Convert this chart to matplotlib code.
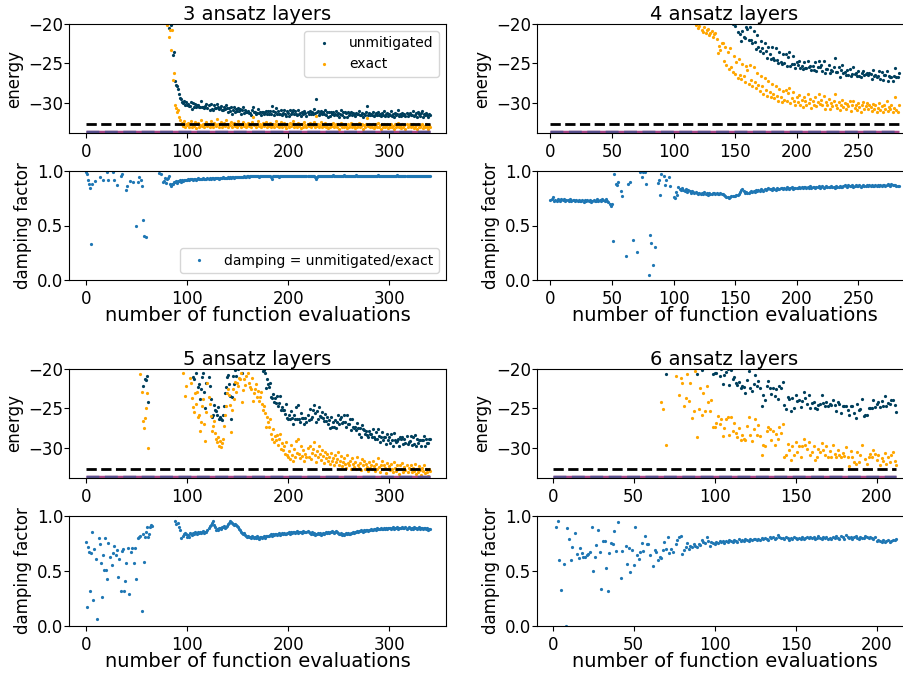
import numpy as np
import matplotlib
matplotlib.use('Agg')
import matplotlib.pyplot as plt

# energies in units of 0.1, damping factors in units of 0.001
# one entry per function evaluation, starting at evaluation 0

# ---- 3 ansatz layers ----
exact_3 = [
    -18, -35, -22, -47, -56, -41, -63, -58, -70, -77, -68, -84, -79, -91, -86, -95, -88, -102, -97, -93,
    -104, -99, -111, -107, -96, -115, -109, -118, -112, -121, -116, -108, -124, -119, -127, -122, -130, -117, -125, -133,
    -128, -121, -136, -131, -126, -139, -134, -129, -142, -137, -132, -140, -145, -138, -143, -136, -148, -141, -146, -139,
    -144, -149, -142, -150, -146, -147, -151, -145, -153, -148, -152, -149, -156, -161, -167, -163, -172, -178, -184, -191,
    -201, -196, -216, -207, -233, -208, -271, -262, -302, -306, -312, -309, -318, -321, -326, -325, -329, -323, -330, -327,
    -328, -325, -331, -327, -323, -330, -326, -329, -324, -332, -327, -325, -330, -328, -322, -329, -326, -331, -327, -324,
    -329, -326, -330, -323, -328, -331, -325, -327, -329, -320, -326, -330, -327, -324, -331, -328, -325, -329, -322, -327,
    -330, -326, -328, -324, -331, -327, -325, -329, -326, -330, -323, -328, -326, -331, -327, -324, -329, -326, -330, -328,
    -325, -329, -327, -331, -324, -318, -328, -326, -330, -327, -323, -329, -326, -331, -328, -325, -329, -327, -324, -330,
    -327, -329, -325, -331, -328, -326, -330, -327, -323, -329, -326, -331, -328, -324, -330, -327, -325, -329, -332, -326,
    -328, -331, -325, -329, -327, -323, -330, -326, -328, -331, -325, -329, -327, -332, -326, -330, -324, -328, -331, -327,
    -329, -325, -330, -327, -328, -324, -331, -317, -329, -326, -330, -328, -324, -331, -327, -329, -325, -330, -328, -332,
    -326, -330, -327, -329, -325, -331, -328, -326, -330, -327, -333, -328, -325, -330, -327, -331, -326, -329, -332, -327,
    -330, -328, -325, -331, -327, -329, -332, -326, -330, -328, -325, -331, -329, -327, -333, -328, -330, -326, -319, -329,
    -327, -331, -328, -330, -326, -332, -329, -327, -331, -325, -330, -328, -333, -327, -330, -326, -331, -329, -327, -332,
    -328, -330, -326, -331, -329, -333, -327, -330, -328, -325, -331, -329, -332, -327, -330, -328, -333, -326, -331, -329,
    -327, -331, -329, -326, -332, -330, -328, -333, -327, -330, -331, -328, -326, -332, -329, -331, -327, -330, -333, -328, -330,
]
damp_3 = [
    990, 972, 921, 884, 842, 332, 880, 1120, 1210, 905, 1080, 1250, 1160, 1040, 946, 1230, 1100, 921, 1280, 1060,
    1180, 993, 918, 1130, 1270, 1050, 990, 916, 1190, 1090, 874, 1210, 1140, 1020, 952, 968, 1230, 1080, 1160, 822,
    858, 1280, 1110, 908, 1030, 1190, 901, 1070, 1260, 493, 1120, 902, 946, 1040, 921, 862, 548, 402, 1170, 394,
    1130, 1040, 1210, 1080, 1170, 1260, 1060, 1190, 1100, 1030, 1240, 1150, 982, 1040, 968, 1020, 902, 911, 935, 889,
    925, 934, 951, 880, 862, 878, 884, 897, 902, 906, 891, 912, 908, 915, 903, 918, 912, 921, 917, 914,
    921, 926, 918, 928, 924, 931, 922, 927, 929, 920, 926, 932, 925, 930, 923, 928, 934, 926, 929, 931,
    933, 928, 936, 931, 938, 934, 929, 937, 932, 940, 935, 931, 938, 936, 933, 941, 937, 934, 939, 936,
    942, 938, 945, 940, 947, 943, 939, 946, 944, 941, 948, 945, 942, 949, 946, 943, 950, 947, 944, 951,
    953, 949, 956, 951, 954, 958, 950, 955, 952, 957, 953, 949, 956, 954, 951, 958, 955, 952, 956, 953,
    950, 955, 953, 948, 926, 952, 957, 954, 950, 955, 953, 949, 956, 952, 954, 958, 951, 955, 953, 950,
    954, 957, 951, 955, 952, 956, 953, 950, 957, 954, 951, 955, 958, 952, 954, 950, 956, 953, 955, 951,
    956, 953, 950, 954, 957, 951, 943, 931, 946, 952, 955, 953, 957, 950, 954, 956, 952, 955, 951, 957,
    954, 958, 952, 955, 959, 953, 956, 951, 955, 958, 954, 957, 952, 956, 953, 959, 955, 952, 957, 954,
    956, 952, 958, 954, 957, 953, 955, 959, 952, 956, 954, 951, 957, 955, 953, 958, 954, 956, 952, 957,
    955, 953, 958, 954, 956, 952, 957, 955, 953, 959, 954, 956, 952, 957, 955, 953, 958, 954, 956, 953,
    957, 954, 952, 958, 955, 953, 956, 954, 959, 952, 956, 955, 953, 957, 954, 956, 952, 958, 955, 953,
    956, 954, 958, 952, 955, 957, 953, 956, 954, 951, 957, 955, 953, 958, 954, 952, 956, 955, 953, 957, 954,
]

# ---- 4 ansatz layers ----
exact_4 = [
    -12, -24, -19, -33, -41, -28, -46, -52, -39, -58, -61, -49, -66, -70, -57, -73, -68, -79, -75, -84,
    -77, -88, -82, -91, -86, -95, -89, -98, -93, -101, -97, -104, -99, -107, -102, -110, -105, -112, -108, -115,
    -111, -117, -113, -120, -116, -122, -118, -125, -121, -127, -123, -129, -125, -131, -127, -133, -129, -135, -131, -136,
    -132, -138, -134, -140, -136, -141, -137, -143, -139, -144, -140, -145, -141, -146, -142, -148, -144, -149, -145, -150,
    -146, -151, -147, -153, -149, -154, -150, -156, -152, -157, -153, -158, -155, -160, -156, -161, -157, -162, -158, -163,
    -159, -164, -161, -166, -163, -168, -165, -170, -167, -173, -170, -176, -173, -179, -176, -182, -185, -189,
    -201, -198, -205, -203, -199, -207, -210, -204, -212, -208, -206, -214, -211, -209, -216, -213, -212, -219, -237, -228, -233, -224,
    -224, -247, -229, -252, -236, -257, -231, -254, -261, -241, -263, -248, -268, -244, -264, -270, -251, -266, -273, -253,
    -258, -276, -252, -271, -279, -255, -274, -281, -262, -277, -285, -266, -279, -289, -268, -283, -291, -272, -286, -292,
    -276, -289, -294, -279, -291, -297, -282, -293, -299, -285, -296, -284, -298, -287, -281, -300, -294, -286, -297, -303,
    -293, -299, -290, -302, -296, -305, -292, -298, -303, -289, -300, -295, -306, -297, -302, -293, -304, -299, -288, -301,
    -296, -303, -291, -307, -299, -302, -295, -308, -300, -304, -297, -288, -303, -306, -299, -309, -302, -296, -305, -300,
    -307, -301, -304, -298, -310, -303, -297, -306, -302, -309, -300, -305, -311, -303, -299, -307, -304, -300, -308, -302,
    -305, -310, -301, -307, -303, -311, -306, -300, -309, -304, -312, -302, -307, -298, -310, -305, -308, -303, -311, -306,
    -293, -309, -312, -302,
]
damp_4 = [
    738, 745, 761, 729, 733, 722, 741, 735, 728, 739, 731, 744, 726, 737, 733, 729, 742, 724, 736, 731,
    727, 734, 722, 738, 729, 725, 733, 719, 731, 727, 736, 723, 730, 718, 729, 735, 722, 728, 741, 726,
    733, 727, 745, 738, 729, 741, 722, 713, 696, 683,
    700, 355, 968, 882, 874, 902, 1080, 812, 771, 1150, -120, 221, 1230, 884, 1060, 897, -340, 368, 1110, 1340,
    258, 1070, -90, 990, 946, 988, 1200, 991, 880, 1050, 46, 412, 336, 140, 1130, 305, 1020, 890, 915, 781,
    976, 1040, 951, 870, 914, 1070, 945, 861, 1010, 1120,
    760, 752, 803, 781, 852, 836, 824, 841, 829, 816, 838, 807, 822, 812, 800, 819, 806, 795, 811, 799,
    790, 802, 786, 797, 791, 804, 788, 795, 783, 799, 792, 786, 801, 794, 789, 797, 791, 785, 800, 793,
    788, 779, 771, 764, 757, 748, 762, 771, 767, 775, 769, 778, 783, 791, 806, 822, 831, 812, 798, 805,
    801, 796, 809, 814, 803, 818, 811, 823, 816, 827, 821, 833, 826, 819, 838, 829, 835, 842, 831, 838,
    829, 841, 836, 827, 845, 838, 833, 847, 840, 835, 844, 838, 849, 842, 836, 845, 851, 839, 846, 843,
    848, 841, 852, 846, 855, 843, 850, 857, 845, 852, 848, 858, 843, 851, 856, 847, 853, 849, 859, 846,
    852, 858, 847, 855, 861, 850, 856, 849, 862, 853, 857, 846, 859, 854, 850, 863, 856, 852, 860, 868,
    862, 856, 871, 864, 858, 867, 855, 862, 869, 859, 865, 872, 857, 863, 868, 860, 866, 873, 861, 867,
    862, 870, 858, 866, 873, 860, 868, 864, 871, 859, 867, 874, 863, 869, 878, 872, 866, 882, 875, 868,
    871, 864, 858, 866,
]

# ---- 5 ansatz layers ----
exact_5 = [
    -21, -38, -29, -54, -47, -63, -58, -72, -66, -81, -74, -89, -83, -95, -90, -102, -97, -108, -103, -114,
    -110, -118, -113, -122, -117, -126, -121, -130, -125, -133, -128, -136, -131, -139, -134, -142, -137, -145, -140, -147,
    -143, -149, -146, -151, -148, -153, -150, -155, -152, -157, -154, -160, -158,
    -206, -172, -229, -266, -275, -262, -250, -231, -300,
    -158, -146, -161, -152, -139, -148, -133, -155, -142, -150, -137, -129, -145, -153, -140, -162, -135, -147, -158, -131,
    -144, -156, -139, -151, -163, -148,
    -164, -171, -177, -183, -188, -192, -195, -189,
    -205, -198, -234, -221,
    -199, -193, -199, -212, -218, -237, -248, -254, -231, -244, -229, -261, -258, -278, -267, -247, -238, -270, -291, -255,
    -218, -236, -244, -259, -278, -272, -266, -281, -289, -293, -286, -297, -291, -299, -294, -288, -272, -258, -247, -231,
    -225, -233, -246, -280, -252, -225, -238, -217, -229, -218, -221, -212, -213, -205, -242, -226, -213, -220, -209, -198,
    -205, -218, -223, -225, -212, -240, -231, -225, -219, -236, -228, -241, -236, -229, -244, -252, -247, -256, -273, -261,
    -267, -274, -263, -282, -289, -276, -293, -285, -290, -283, -296, -288, -282, -301, -294, -303, -298, -307, -292, -309,
    -312, -304, -314, -296, -309, -317, -301, -311, -291, -306, -289, -307, -313, -298, -310, -303, -316, -308, -312, -300,
    -311, -297, -314, -306, -301, -292, -309, -318, -304, -312, -297, -308, -315, -303, -310, -319, -305, -313, -308, -316,
    -311, -320, -306, -317, -313, -322, -309, -318, -314, -305, -321, -316, -310, -323, -318, -313, -320, -325, -309, -319,
    -322, -316, -327, -313, -320, -324, -318, -326, -311, -321, -325, -319, -328, -314, -322, -317, -326, -320, -324, -329,
    -318, -325, -321, -327, -316, -323, -329, -320, -326, -313, -324, -330, -322, -317, -327, -321, -325, -332, -319, -326,
    -323, -328, -320, -326, -331, -318, -325, -329, -322, -327, -333, -321, -326, -319, -330, -324, -328, -322, -331, -325,
    -327, -322, -331, -325, -329, -320, -333, -326, -330, -323, -328, -334, -325, -329, -321, -332, -327, -330, -335, -326, -329,
]
damp_5 = [
    760, 170, 718, 672, 318, 663, 858, 232, 702, 1080, 611, 68, 1140, 801, 745, 572, 268, 641, 512, 798,
    509, 428, 757, 623, 1090, 552, 661, 731, 1210, 648, 690, 442, 612, 1050, 318, 683, 703, 318, 412, 571,
    1160, 712, 293, 1070, 670, 705, 1230, 571, 712, 430, 1100, 801, 812, 815, 1150, 140, 832, 582, 810, 858,
    903, 806, 832, 898, 921, 912,
    1080, 1190, -150, 1160, 1040, 1130, 1120, -420, 1170, 1070, 1190, 1140, 1110, 1020, 1180, 1150, -80, 1090, 1120, 1060,
    1160, 1140,
    951, 930, 1010, 937, 902, 871, 803, 1040, 822, 839, 845, 836,
    812, 826, 808, 841, 835, 829, 847, 838, 851, 843, 836, 852, 848, 857, 844, 853, 861, 849, 858, 856,
    872, 893, 907, 918, 936, 951, 922, 897, 874, 881, 869, 888, 894, 879, 901, 896, 908, 893, 903, 911,
    924, 939, 952, 941, 933, 927, 918, 925, 914, 909, 903, 881, 872, 858, 849, 836, 842, 827, 819, 812,
    818, 806, 813, 802, 815, 809, 798, 812, 804, 816, 801, 795, 808, 811, 799, 806, 817, 803, 821, 814,
    822, 815, 829, 834, 821, 838, 826, 832, 840, 829, 835, 842, 831, 838, 844, 833, 847, 839, 836, 849,
    843, 851, 838, 855, 847, 852, 858, 846, 853, 861, 849, 856, 852, 859, 847, 863, 855, 851, 857, 862,
    851, 846, 839, 852, 835, 843, 829, 838, 832, 845, 836, 841, 828, 839, 847, 833, 842, 851, 846, 855,
    849, 858, 852, 861, 855, 848, 857, 862, 851, 846, 839, 835, 843, 830, 838, 827, 834, 841, 836, 845,
    839, 832, 848, 841, 853, 846, 859, 851, 862, 855, 867, 860, 871, 864, 858, 873, 866, 870, 877, 868,
    874, 869, 881, 876, 872, 884, 879, 875, 887, 881, 878, 885, 890, 882, 886, 893, 880, 888, 884, 891,
    887, 894, 882, 890, 897, 885, 892, 888, 903, 884, 895, 891, 887, 898, 893, 889, 896, 884, 892, 899,
    890, 886, 894, 881, 897, 888, 892, 885, 891, 896, 883, 889, 893, 880, 887, 895, 882, 889, 876, 884, 879,
]

# ---- 6 ansatz layers ----
exact_6 = [
    -9, -22, -15, -31, -27, -40, -36, -48, -43, -55, -51, -62, -58, -69, -64, -75, -71, -80, -77, -85,
    -82, -89, -86, -93, -90, -97, -94, -101, -98, -105, -102, -108, -105, -112, -109, -115, -112, -118, -115, -121,
    -118, -124, -121, -127, -124, -130, -127, -133, -130, -136, -133, -138, -136, -141, -139, -144, -142, -147, -145, -150,
    -148, -152, -155, -158, -161, -165, -170,
    -242, -251, -199, -296, -188, -195, -176, -191, -184, -209, -197, -233, -212,
    -218, -247, -237, -206, -241, -218, -262, -253, -203, -286, -251, -224, -258, -231, -253, -222, -242, -253, -239, -274,
    -274, -268, -260, -270, -263, -285, -275, -263, -261, -283, -261, -279, -268, -281, -286, -275, -290, -283, -288, -290,
    -272, -261, -283, -291, -276, -263, -284, -271, -285, -309, -296, -298, -279, -274, -276, -290, -278, -296, -282, -289,
    -274, -281, -270, -311, -309, -295, -303, -315, -298, -309, -292, -305, -297, -312, -298, -289, -296, -301, -293, -309,
    -305, -298, -315, -312, -301, -305, -294, -302, -309, -297, -311, -304, -311, -296, -308, -311, -302, -309, -312, -306,
    -310, -299, -311, -323, -304, -312, -318, -320, -305, -318, -309, -296, -326, -314, -320, -312, -307, -311, -302, -307,
    -315, -309, -322, -313, -317, -306, -320, -312, -318, -309, -305, -316, -322,
]
damp_6 = [
    1090, 1230, 897, 957, 599, 325, 1160, 560, 2, 887, 788, 604, 721, -210, 842, 652, 621, 710, 668, 623,
    631, 643, 652, 671, 897, 502, 631, 733, 872, 675, 338, 771, 774, 531, 318, 668, 752, 748, 868, 680,
    942, 1180, 437, 682, 1050, 731, 563, 709, 489, 693, 552, 901, 641, 612, 672, 758, 683, 819, 747, 741,
    642, 1090, 548, 693, 671, 603, 628, 621, 693, 762, 697, 813, 662, 704, 672, 1040, 741, 782, 809, 821,
    659, 688, 721, 758, 703, 731, 718, 742, 729, 721, 743, 736, 779, 768, 752, 812, 771, 724, 763, 751,
    748, 763, 757, 772, 761, 769, 756, 774, 765, 779, 771, 762, 783, 776, 768, 789, 774, 781, 772, 793,
    786, 777, 791, 782, 795, 787, 779, 792, 784, 798, 789, 803, 794, 785, 812, 797, 806, 791, 800, 824,
    808, 796, 803, 789, 811, 798, 786, 802, 793, 807, 799, 788, 804, 795, 809, 791, 801, 813, 796, 805,
    798, 810, 792, 804, 815, 801, 793, 806, 799, 812, 795, 803, 790, 808, 797, 814, 802, 791, 819, 806,
    795, 827, 808, 798, 812, 792, 805, 817, 800, 794, 811, 803, 796, 822, 807, 799, 813, 801, 792, 809,
    776, 784, 771, 768, 779, 765, 773, 781, 767, 775, 783, 779, 790,
]

layers = [3, 4, 5, 6]
exact_all = [exact_3, exact_4, exact_5, exact_6]
damp_all = [damp_3, damp_4, damp_5, damp_6]
x_limits = [(-17.1, 356.1), (-10.9, 293.7), (-17.1, 356.1), (-9.7, 221.8)]
x_ticks = [[0, 100, 200, 300], [0, 50, 100, 150, 200, 250],
           [0, 100, 200, 300], [0, 50, 100, 150, 200]]

E_REFERENCE = -32.6   # dashed reference energy
E_GROUND = -33.72     # exact ground state energy
E_TOP = -20

C_UNMIT = '#003f5c'
C_EXACT = '#ffa600'
C_DAMP = '#1f77b4'

W, H = 904, 674
fig = plt.figure(figsize=(W / 100, H / 100), dpi=100)


def axes_px(left, top, right, bottom):
    return fig.add_axes([left / W, 1 - bottom / H, (right - left) / W, (bottom - top) / H])


cols = [(69, 446), (537, 912)]
rows = [((24, 133), (171, 280)), ((369, 478), (516, 626))]

for k, n in enumerate(layers):
    c = cols[k % 2]
    r = rows[k // 2]
    exact = np.array(exact_all[k]) / 10.0
    damp = np.array(damp_all[k]) / 1000.0
    unmit = damp * exact
    evals = np.arange(len(exact))

    ax = axes_px(c[0], r[0][0], c[1], r[0][1])
    ax.plot(evals, unmit, 'o', ms=2.3, mew=0, color=C_UNMIT, label='unmitigated')
    ax.plot(evals, exact, 'o', ms=2.3, mew=0, color=C_EXACT, label='exact')
    ax.hlines(E_REFERENCE, evals[0], evals[-1], colors='black', linestyles='--', lw=2)
    ax.hlines(E_GROUND, evals[0], evals[-1], colors='#a8478a', lw=2.5)
    ax.hlines(E_GROUND, evals[0], evals[-1], colors='#58508d', linestyles='--', lw=2.5)
    ax.set_ylim(-33.8, E_TOP)
    ax.set_xlim(*x_limits[k])
    ax.set_yticks([-20, -25, -30])
    ax.set_xticks(x_ticks[k])
    ax.set_ylabel('energy', fontsize=12)
    ax.set_title(f'{n} ansatz layers', fontsize=14, pad=3)
    ax.tick_params(labelsize=12)
    ax.tick_params(axis='y', pad=0.5)
    if n == 3:
        ax.legend(loc='upper right', fontsize=10)

    axd = axes_px(c[0], r[1][0], c[1], r[1][1])
    axd.plot(evals, damp, 'o', ms=2.3, mew=0, color=C_DAMP,
             label='damping = unmitigated/exact')
    axd.set_ylim(0, 1)
    axd.set_xlim(*x_limits[k])
    axd.set_yticks([0.0, 0.5, 1.0])
    axd.set_xticks(x_ticks[k])
    axd.set_ylabel('damping factor', fontsize=12)
    axd.set_xlabel('number of function evaluations', fontsize=14, labelpad=-1)
    axd.tick_params(labelsize=12)
    axd.tick_params(axis='y', pad=0.5)
    if n == 3:
        axd.legend(loc='lower right', fontsize=10)

fig.savefig('out.png', dpi=100)
